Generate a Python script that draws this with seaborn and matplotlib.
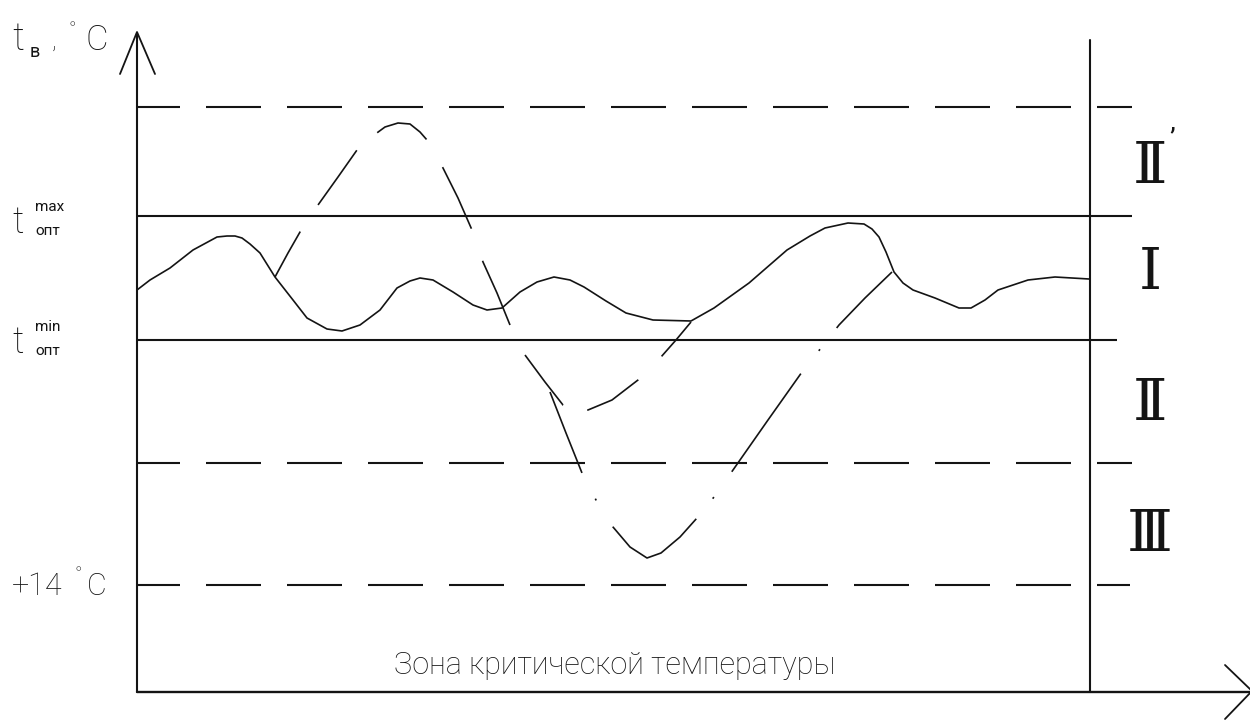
import matplotlib
matplotlib.use("Agg")
import matplotlib.pyplot as plt
import seaborn as sns
import pandas as pd

sns.set_theme(style="white")
FONT = ["Roboto", "DejaVu Sans"]
plt.rcParams["font.family"] = FONT
plt.rcParams["lines.scale_dashes"] = False

INK = "#141414"
PX = 0.72  # points per pixel at 100 dpi

# ---- data (drawing coordinates: x to the right, y downward as in the sketch) ----
# curve with heating (stays inside the optimum zone I)
solid_x = [137, 150, 170, 193, 217, 227, 235, 242, 250, 260, 275, 293, 307, 327, 342, 360, 380, 397,
           410, 420, 433, 453, 473, 487, 502, 520, 537, 554, 570, 584, 606, 626, 653, 691, 714, 749, 787,
           810, 825, 848, 864, 872, 879, 886, 894, 903, 913, 935, 959, 971, 985, 998, 1028, 1055, 1089]
solid_y = [290, 280, 268, 250, 237, 236, 236, 238, 244, 253, 277, 300, 318, 329, 331, 325, 310, 288,
           281, 278, 280, 292, 305, 310, 308, 292, 282, 277, 280, 287, 301, 313, 320, 321, 308, 283, 250,
           236, 228, 223, 224, 229, 237, 252, 272, 283, 290, 298, 308, 308, 300, 290, 280, 277, 279]

# curve without heating, upper part (zone II')
upper_x = [275, 288, 300, 318, 338, 357, 370, 385, 398, 410, 420, 427, 443, 458, 472, 483, 497, 510]
upper_y = [277, 253, 232, 205, 177, 150, 138, 127, 123, 124, 132, 140, 168, 198, 230, 262, 293, 325]

# curve without heating, lower part (zone III)
lower_x = [550, 566, 582, 596, 613, 630, 647, 661, 680, 697, 714, 733, 768, 802, 821, 839, 865, 892]
lower_y = [392, 433, 473, 500, 527, 547, 558, 553, 537, 518, 497, 470, 420, 372, 348, 325, 298, 272]

# branch staying in zone II
branch_x = [525, 545, 563, 575, 588, 612, 638, 661, 676, 691]
branch_y = [355, 382, 405, 410, 410, 400, 380, 357, 340, 322]

# horizontal boundaries
dashed_levels = [107, 463, 585]
dashed_ends = [1132, 1132, 1130]
solid_levels = [216, 340]
solid_ends = [1132, 1117]

zone_labels = ["Ⅱ", "Ⅰ", "Ⅱ", "Ⅲ"]
zone_pos_y = [167, 273, 404, 535]

caption = "Зона критической температуры"

# ---- figure ----
fig = plt.figure(figsize=(12.5, 7.2), dpi=100)
ax = fig.add_axes([0, 0, 1, 1])

def dash(seq, offset=0):
    return (offset * PX, tuple(v * PX for v in seq))

# boundary lines
ax.hlines(dashed_levels, 137, dashed_ends, colors=INK, lw=1.5,
          linestyles=[dash((55, 26), 12)])
ax.hlines(solid_levels, 137, solid_ends, colors=INK, lw=1.5)

# axes with arrows
ax.plot([137, 137], [692, 33], color=INK, lw=1.5)
ax.plot([120, 137, 155], [74, 32, 74], color=INK, lw=1.3)
ax.plot([137, 1250], [692, 692], color=INK, lw=1.7)
ax.plot([1225, 1252, 1225], [665, 691, 719], color=INK, lw=1.3)
ax.plot([1090, 1090], [40, 692], color=INK, lw=1.5)

# curves
sns.lineplot(data=pd.DataFrame({"x": solid_x, "y": solid_y}), x="x", y="y", sort=False,
             estimator=None, ax=ax, color=INK, lw=1.2)
sns.lineplot(data=pd.DataFrame({"x": upper_x, "y": upper_y}), x="x", y="y", sort=False,
             estimator=None, ax=ax, color=INK, lw=1.2,
             linestyle=dash((52, 32, 67, 27, 58, 32, 68, 34, 70, 20)))
sns.lineplot(data=pd.DataFrame({"x": lower_x, "y": lower_y}), x="x", y="y", sort=False,
             estimator=None, ax=ax, color=INK, lw=1.2,
             linestyle=dash((87, 29, 2, 31, 111, 26, 2, 31, 120, 29, 2, 27, 80, 20)))
sns.lineplot(data=pd.DataFrame({"x": branch_x, "y": branch_y}), x="x", y="y", sort=False,
             estimator=None, ax=ax, color=INK, lw=1.2,
             linestyle=dash((63, 25, 60, 33, 50, 20)))
for ln in ax.get_lines():
    ln.set_dash_capstyle("butt")
ax.set_xlim(0, 1250)
ax.set_ylim(720, 0)
ax.axis("off")

TXT = dict(color=INK, va="baseline", fontweight="light")
SMALL = dict(color=INK, va="baseline", fontweight="normal")

# y-axis title
ax.text(12, 50, "t", fontsize=27, **TXT)
ax.text(30, 57, "в", fontsize=13, **SMALL)
ax.text(52, 48, ",", fontsize=18, **TXT)
ax.text(68, 35, "°", fontsize=14, **TXT)
ax.text(85, 50, "C", fontsize=25, **TXT)

# t_opt max / min
for base, sup in [(233, "max"), (353, "min")]:
    ax.text(12, base, "t", fontsize=26, **TXT)
    ax.text(35, base - 22, sup, fontsize=11, **SMALL)
    ax.text(35, base + 2, "опт", fontsize=11, **SMALL)

# +14 °C
ax.text(12, 595, "+14", fontsize=22, **TXT)
ax.text(75, 580, "°", fontsize=14, **TXT)
ax.text(87, 595, "C", fontsize=22, **TXT)

# zone numerals
for lab, yy in zip(zone_labels, zone_pos_y):
    ax.text(1150, yy, lab, fontsize=42, color=INK, ha="center", va="center",
            family=["DejaVu Serif"], fontweight="light")
ax.text(1172, 140, "’", fontsize=20, color=INK, ha="center", va="center")

ax.text(615, 665, caption, fontsize=22, color=INK, ha="center", va="center",
        fontweight="light")

fig.savefig("out.png", dpi=100, facecolor="white")
